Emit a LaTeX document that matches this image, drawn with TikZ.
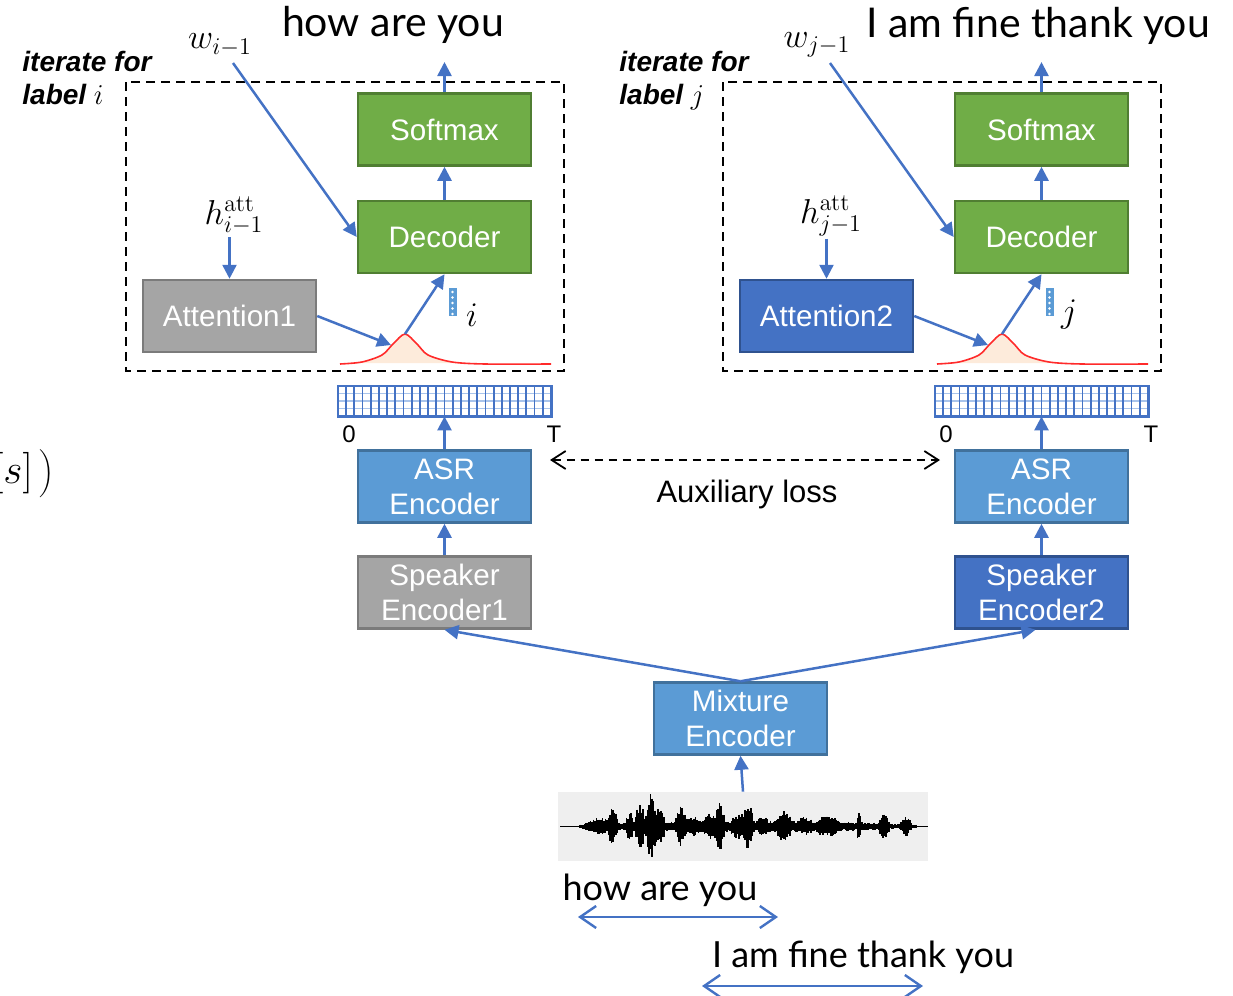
\documentclass[tikz,border=0pt]{standalone}
\usepackage[no-math]{fontspec}
\setmainfont{Liberation Sans}
\newfontfamily\capfont{Lato}
\usetikzlibrary{arrows.meta}
\definecolor{gfill}{HTML}{70AD47}
\definecolor{gdraw}{HTML}{507E32}
\definecolor{grfill}{HTML}{A5A5A5}
\definecolor{grdraw}{HTML}{7B7B7B}
\definecolor{bfill}{HTML}{5B9BD5}
\definecolor{bdraw}{HTML}{41719C}
\definecolor{dbfill}{HTML}{4472C4}
\definecolor{dbdraw}{HTML}{2F528F}
\definecolor{arrblue}{HTML}{4472C4}
\definecolor{peach}{HTML}{FDEBDB}
\definecolor{wavebg}{HTML}{EFEFEF}
\definecolor{gridlight}{HTML}{A9C4EB}
\definecolor{curvered}{HTML}{FF2A2A}
\begin{document}
\begin{tikzpicture}[x=0.5pt,y=-0.5pt,
  box/.style={draw, line width=1.25pt, minimum width=86.5pt, minimum height=36pt,
    inner sep=0pt, text=white, align=center, font=\fontsize{14.8}{17.5}\selectfont},
  gbox/.style={box, fill=gfill, draw=gdraw},
  graybox/.style={box, fill=grfill, draw=grdraw},
  bbox/.style={box, fill=bfill, draw=bdraw},
  dbbox/.style={box, fill=dbfill, draw=dbdraw},
  arr/.style={draw=arrblue, line width=1.25pt, -{Triangle[length=7pt,width=7pt]}},
  dblarr/.style={draw=arrblue, line width=1.2pt, {Straight Barb[length=8pt,width=11pt]}-{Straight Barb[length=8pt,width=11pt]}},
  auxarr/.style={draw=black, line width=0.9pt, dash pattern=on 4pt off 3pt, {Straight Barb[length=7pt,width=9pt]}-{Straight Barb[length=7pt,width=9pt]}},
  dashbox/.style={draw=black, line width=1.2pt, dash pattern=on 4.5pt off 3pt},
  mathlbl/.style={font=\fontsize{18}{21}\selectfont, inner sep=1pt},
  itlbl/.style={font=\fontsize{14}{16.5}\selectfont\bfseries\itshape, align=left, anchor=north west, inner sep=0pt},
  axlbl/.style={font=\fontsize{12}{14}\selectfont, inner sep=0pt},
  titlecap/.style={font=\capfont\fontsize{20.5}{24}\selectfont, anchor=base, inner sep=0pt},
  smallcap/.style={font=\capfont\fontsize{18}{21}\selectfont, anchor=base, inner sep=0pt},
  declare function={bmp(\x,\c,\w)=max(0,1-((\x-\c)/\w)^2);
    env(\x)=2+4*bmp(\x,748,170)+6*bmp(\x,598,14)+15*bmp(\x,613,6)+10*bmp(\x,630,5)+19*bmp(\x,640,6)
      +32*bmp(\x,651,6)+18*bmp(\x,660,5)+16*bmp(\x,681,6)+5*bmp(\x,694,8)+8*bmp(\x,712,10)
      +17*bmp(\x,720,5)+7*bmp(\x,740,10)+17*bmp(\x,749,5)+5*bmp(\x,763,6)+11*bmp(\x,784,8)
      +4*bmp(\x,805,8)+6*bmp(\x,828,12)+13*bmp(\x,859,3)+12*bmp(\x,884,6)+8*bmp(\x,906,6);}
]
\useasboundingbox (0,0) rectangle (1233,996);

% fragment at left edge
\node[font=\fontsize{20}{24}\selectfont, anchor=east, inner sep=0pt] (frag) at (55,473) {$[s]\,\Bigg)$};

% top captions
\node[titlecap] (tL) at (393,36) {how are you};
\node[titlecap] (tR) at (1038,37) {I am fine thank you};

\foreach \s/\dx/\l/\n/\cs in {L/0/i/1/graybox, R/597/j/2/dbbox}{
\begin{scope}[shift={(\dx,0)}]
  \draw[dashbox] (126,82) rectangle (564,371);
  \node[itlbl] (it\s) at (22,51) {iterate for\\label $\l$};
  \node[gbox] (sm\s) at (444.5,129.5) {Softmax};
  \node[gbox] (dec\s) at (444.5,237) {Decoder};
  \node[\cs] (att\s) at (229.5,316) {Attention\n};
  \node[bbox] (asr\s) at (444.5,486.5) {ASR\\Encoder};
  \node[\cs] (spk\s) at (444.5,592.5) {Speaker\\Encoder\n};
  \node[mathlbl] (w\s) at (220,45) {$w_{\l-1}$};
  \node[mathlbl] (h\s) at (234,216) {$h^{\mathrm{att}}_{\l-1}$};
  \coordinate (out\s) at (444.5,62);
  \coordinate (ws\s) at (233,63);
  \coordinate (pin\s) at (391,345);
  \coordinate (pk\s) at (405,334);
  % attention curve
  \fill[peach] plot[smooth] coordinates {(362,363)(382,355)(393,344)(405,334)(417,344)(428,355)(452,363)} -- cycle;
  \draw[curvered, line width=0.8pt] plot[smooth] coordinates {(340,364)(362,362)(382,355)(393,344)(405,334)(417,344)(428,355)(452,362)(485,364)(551,364)};
  % context vector icon
  \node[fill=bfill, minimum width=4pt, minimum height=14pt, inner sep=0pt] (cv\s) at (452.5,302) {};
  \foreach \yy in {292,297.5,303,308.5,314}{\fill[white] (452.5,\yy) circle (0.7pt);}
  \node[font=\fontsize{18}{20}\selectfont, inner sep=0pt] (lab\s) at (472,315) {$\l$};
  % encoder-state grid
  \node[fill=white, minimum width=106.5pt, minimum height=15pt, inner sep=0pt] (grid\s) at (444.5,401) {};
  \foreach \yy in {393.5,401,408.5}{\draw[gridlight, line width=0.8pt] (338,\yy) -- (551,\yy);}
  \foreach \k in {1,...,25}{\draw[arrblue, line width=0.9pt] ({338+\k*8.19},386) -- ({338+\k*8.19},416);}
  \draw[arrblue, line width=1.1pt] (grid\s.south west) rectangle (grid\s.north east);
  \node[axlbl] (z\s) at (349,434) {0};
  \node[axlbl] (T\s) at (554,434) {T};
  % connectors
  \draw[arr] (sm\s.north) -- (out\s);
  \draw[arr] (dec\s.north) -- (sm\s.south);
  \draw[arr] (ws\s) -- (dec\s.west);
  \draw[arr] (att\s.north |- h\s.south) -- (att\s.north);
  \draw[arr] (att\s.east) -- (pin\s);
  \draw[arr] (pk\s) -- (dec\s.south);
  \draw[arr] (asr\s.north) -- (grid\s.south);
  \draw[arr] (spk\s.north) -- (asr\s.south);
\end{scope}
}

% mixture encoder and waveform
\node[bbox] (mix) at (740.5,718.5) {Mixture\\Encoder};
\node[fill=wavebg, minimum width=185pt, minimum height=34.5pt, inner sep=0pt] (wave) at (743,826.5) {};
\draw[line width=0.6pt] (560,826.5) -- (928,826.5);
\pgfmathsetseed{7}
\foreach \x in {580,581.5,...,916}{
  \pgfmathsetmacro\e{env(\x)}
  \pgfmathsetmacro\ua{\e*(0.6+0.4*rnd)}
  \pgfmathsetmacro\da{\e*(0.55+0.4*rnd)}
  \draw[line width=0.85pt] (\x,{826.5-\ua}) -- (\x,{826.5+\da});
}
\draw[arr] (wave.north) -- (mix.south);
\draw[arr] (mix.north) -- (spkL.south);
\draw[arr] (mix.north) -- ([xshift=-3pt]spkR.south);

% auxiliary loss
\coordinate (auxA) at (550,460);
\coordinate (auxB) at (940,460);
\draw[auxarr] (auxA) -- (auxB);
\node[font=\fontsize{15.5}{18}\selectfont, inner sep=0pt] (aux) at (747,494) {Auxiliary loss};

% bottom captions with spans
\node[smallcap] (bL) at (660,900) {how are you};
\node[smallcap] (bR) at (863,967) {I am fine thank you};
\coordinate (s1a) at (578,917);
\coordinate (s1b) at (778,917);
\coordinate (s2a) at (702,986);
\coordinate (s2b) at (923,986);
\draw[dblarr] (s1a) -- (s1b);
\draw[dblarr] (s2a) -- (s2b);
\end{tikzpicture}
\end{document}
